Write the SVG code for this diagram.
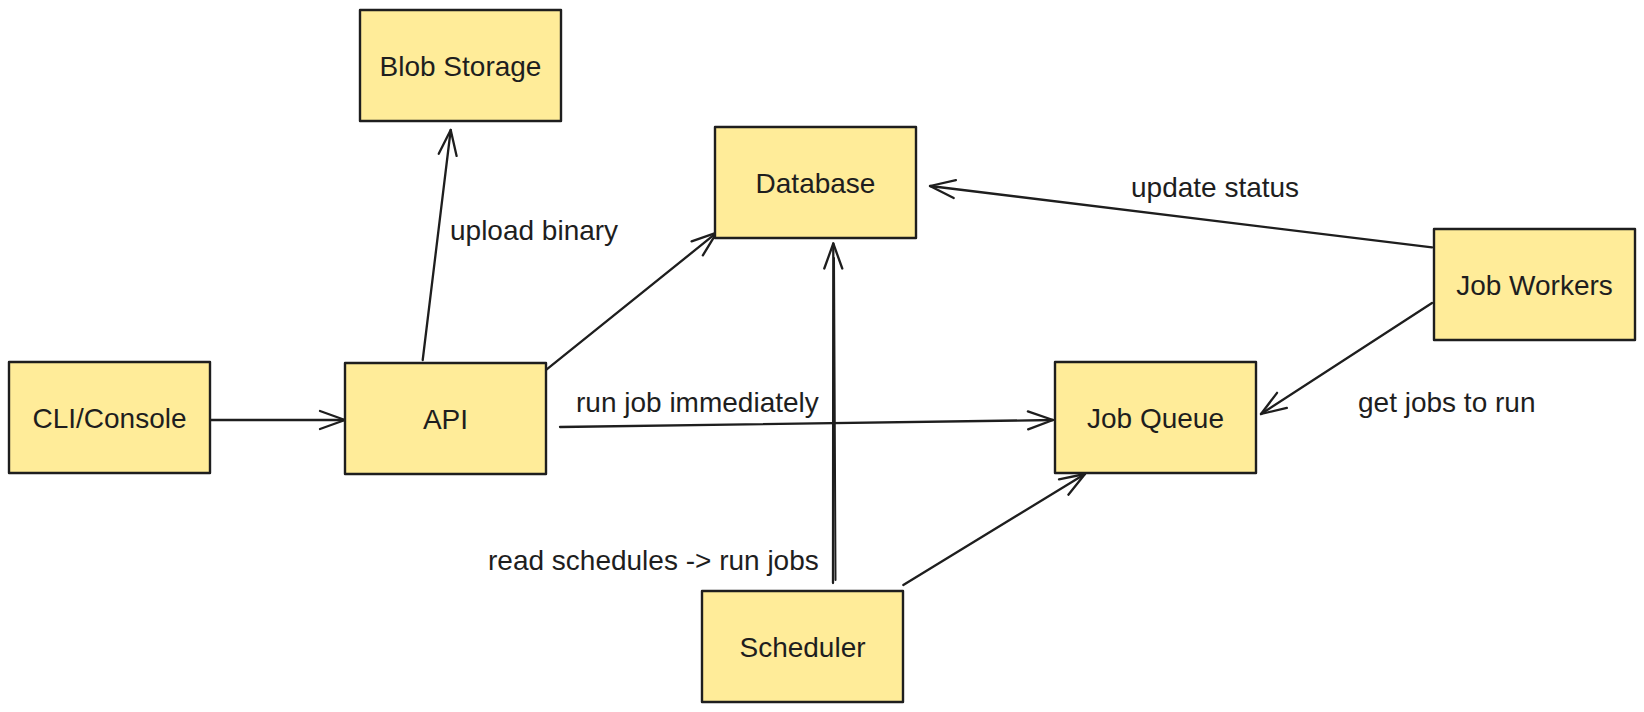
<svg xmlns="http://www.w3.org/2000/svg" width="1644" height="712" viewBox="0 0 1644 712">
<style>
.box{fill:#ffec99;stroke:#1e1e1e;stroke-width:2.4;stroke-linejoin:round}
.lbl{font-family:"Liberation Sans",Arial,Helvetica,sans-serif;font-size:28px;fill:#1e1e1e}
.ctr{text-anchor:middle}
.edge{fill:none;stroke:#1e1e1e;stroke-width:2.3;stroke-linecap:round;marker-end:url(#arr)}
.plain{fill:none;stroke:#1e1e1e;stroke-width:2;stroke-linecap:round}
</style>
<defs>
<marker id="arr" markerUnits="userSpaceOnUse" markerWidth="40" markerHeight="30" viewBox="-30 -15 40 30" refX="0" refY="0" orient="auto" overflow="visible">
<path d="M -25 -9 L 0 0 L -25 9" fill="none" stroke="#1e1e1e" stroke-width="2.3" stroke-linecap="round" stroke-linejoin="round"/>
</marker>
</defs>
<rect width="1644" height="712" fill="#ffffff"/>
<g id="connectors">
<path class="edge" d="M 210 420 L 345 420"/>
<path class="edge" d="M 422.7 360 L 450.7 130"/>
<path class="edge" d="M 546.7 369.3 L 716.7 232.7"/>
<path class="edge" d="M 560 427 L 1053 420"/>
<path class="edge" d="M 833 583 L 833.3 243.5"/>
<path class="plain" d="M 835.5 580 Q 835 420 834 258"/>
<path class="edge" d="M 903.3 585 L 1085 474"/>
<path class="edge" d="M 1432 247.4 L 930 186"/>
<path class="edge" d="M 1432 303 L 1261 414"/>
<text class="lbl" x="450" y="240">upload binary</text>
<text class="lbl" x="576" y="411.7">run job immediately</text>
<text class="lbl" x="488" y="570">read schedules -&gt; run jobs</text>
<text class="lbl" x="1131" y="197">update status</text>
<text class="lbl" x="1358" y="411.7">get jobs to run</text>
</g>
<g id="blob-storage">
<rect class="box" x="360" y="10" width="201" height="111"/>
<text class="lbl ctr" x="460.5" y="75.5">Blob Storage</text>
</g>
<g id="database">
<rect class="box" x="715" y="127" width="201" height="111"/>
<text class="lbl ctr" x="815.5" y="192.5">Database</text>
</g>
<g id="cli-console">
<rect class="box" x="9" y="362" width="201" height="111"/>
<text class="lbl ctr" x="109.5" y="427.5">CLI/Console</text>
</g>
<g id="api">
<rect class="box" x="345" y="363" width="201" height="111"/>
<text class="lbl ctr" x="445.5" y="428.5">API</text>
</g>
<g id="job-queue">
<rect class="box" x="1055" y="362" width="201" height="111"/>
<text class="lbl ctr" x="1155.5" y="427.5">Job Queue</text>
</g>
<g id="job-workers">
<rect class="box" x="1434" y="229" width="201" height="111"/>
<text class="lbl ctr" x="1534.5" y="294.5">Job Workers</text>
</g>
<g id="scheduler">
<rect class="box" x="702" y="591" width="201" height="111"/>
<text class="lbl ctr" x="802.5" y="656.5">Scheduler</text>
</g>
</svg>
